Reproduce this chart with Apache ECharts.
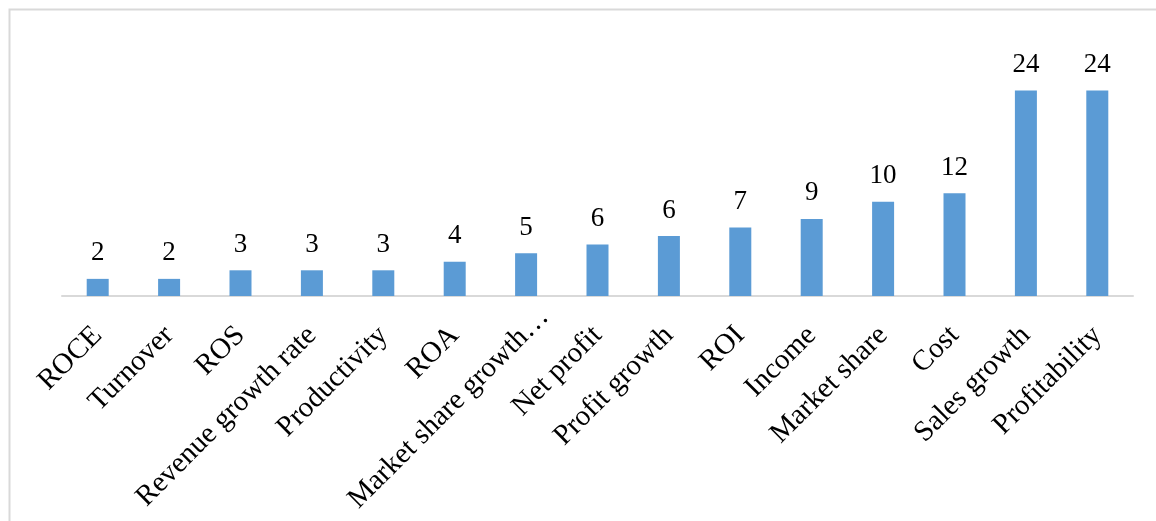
<!DOCTYPE html>
<html>
<head>
<meta charset="utf-8">
<script src="https://cdn.jsdelivr.net/npm/echarts@6/dist/echarts.min.js"></script>
<style>
  html, body { margin: 0; padding: 0; background: #fff; }
  #main { width: 1156px; height: 521px; }
</style>
</head>
<body>
<div id="main"></div>
<script>
// categories (x axis, left to right)
var categories = ['ROCE', 'Turnover', 'ROS', 'Revenue growth rate', 'Productivity', 'ROA',
    'Market share growth\u2026', 'Net profit', 'Profit growth', 'ROI', 'Income',
    'Market share', 'Cost', 'Sales growth', 'Profitability'];
// bar heights
var barValues = [2, 2, 3, 3, 3, 4, 5, 6, 7, 8, 9, 11, 12, 24, 24];
// numbers printed above the bars
var labelValues = [2, 2, 3, 3, 3, 4, 5, 6, 6, 7, 9, 10, 12, 24, 24];

var myChart = echarts.init(document.getElementById('main'));

// the truncated label sits further along its line in the original
var axisData = categories.map(function (name) {
    if (name.indexOf('\u2026') >= 0) {
        return { value: name, textStyle: { padding: [0, -26, 0, 0] } };
    }
    return name;
});

var option = {
    backgroundColor: '#ffffff',
    animation: false,
    graphic: [{
        type: 'rect',
        shape: { x: 9.5, y: 9.5, width: 1200, height: 600 },
        style: { fill: 'none', stroke: '#d9d9d9', lineWidth: 2 },
        silent: true
    }],
    grid: {
        left: 62,
        right: 23,
        top: 39,
        bottom: 225,
        containLabel: false,
        outerBoundsMode: 'none'
    },
    xAxis: {
        type: 'category',
        data: axisData,
        axisLine: { lineStyle: { color: '#d9d9d9', width: 2 } },
        axisTick: { show: false },
        axisLabel: {
            interval: 0,
            rotate: 45,
            margin: 35,
            color: '#000',
            fontFamily: 'Liberation Serif',
            fontSize: 29
        }
    },
    yAxis: {
        type: 'value',
        min: 0,
        max: 30,
        show: false,
        splitLine: { show: false }
    },
    series: [{
        type: 'bar',
        data: barValues,
        barWidth: 22,
        itemStyle: { color: '#5b9bd5' },
        label: {
            show: true,
            position: 'top',
            distance: 12,
            color: '#000',
            fontFamily: 'Liberation Serif',
            fontSize: 27,
            formatter: function (p) { return labelValues[p.dataIndex]; }
        }
    }]
};

myChart.setOption(option);
</script>
</body>
</html>
